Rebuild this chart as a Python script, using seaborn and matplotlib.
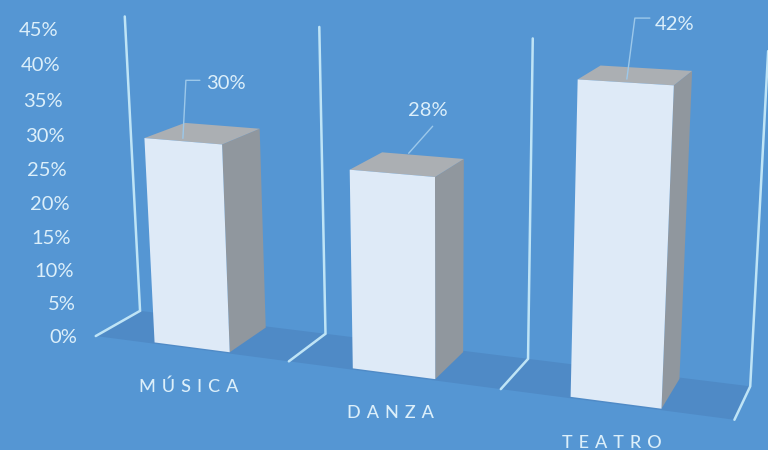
import numpy as np
import pandas as pd
import matplotlib
matplotlib.use('Agg')
import matplotlib.pyplot as plt
import matplotlib.transforms as mtransforms
from matplotlib.patches import Polygon
import seaborn as sns

categorias = ['MÚSICA', 'DANZA', 'TEATRO']
valores = [30, 28, 42]
etiquetas = ['30%', '28%', '42%']
ticks_y = [0, 5, 10, 15, 20, 25, 30, 35, 40, 45]

FONDO = '#5596D3'
PISO = '#4F8AC6'
FRENTE = '#DEEAF7'
TECHO = '#ABAFB3'
LADO = '#90979E'
TEXTO = '#DCEFFA'
LINEA = '#BFE4F6'
GUIA = '#9CC8EA'

W, H = 768, 450
ANCHO = 0.39
Z_FRENTE, Z_FONDO = 0.04, 0.96

# puntos de la imagen para ajustar la camara: x categoria, y valor, z profundidad, u, v
camara = [
    (-0.5, 45, 1, 125, 16), (-0.5, 0, 1, 140, 311), (-0.5, 0, 0, 97, 336),
    (0.5, 45, 1, 320, 27), (0.5, 0, 1, 326, 333), (0.5, 0, 0, 289, 362),
    (1.5, 45, 1, 533, 38), (1.5, 0, 1, 528, 359), (1.5, 0, 0, 502, 388),
    (2.5, 45, 1, 767, 50), (2.5, 0, 1, 750, 388), (2.5, 0, 0, 735, 418),
    (-0.195, 30, 0.04, 144, 139), (0.195, 30, 0.04, 222, 144),
    (0.195, 0, 0.04, 230, 352), (-0.195, 0, 0.04, 153, 342),
    (-0.195, 30, 0.96, 184, 123), (0.195, 30, 0.96, 260, 129),
    (0.805, 28, 0.04, 349, 170), (1.195, 28, 0.04, 436, 178),
    (1.195, 0, 0.04, 435, 379), (0.805, 0, 0.04, 352, 368),
    (0.805, 28, 0.96, 382, 152), (1.195, 28, 0.96, 465, 159),
    (1.805, 42, 0.04, 577, 80), (2.195, 42, 0.04, 675, 85),
    (2.195, 0, 0.04, 662, 409), (1.805, 0, 0.04, 569, 398),
    (1.805, 42, 0.96, 600, 66), (2.195, 42, 0.96, 692, 71),
]

# matriz de proyeccion por minimos cuadrados, ultimo termino fijo en 1
A = np.zeros((len(camara) * 2, 11))
b = np.zeros(len(camara) * 2)
for n, (x, y, z, u, v) in enumerate(camara):
    A[2 * n] = [x, y, z, 1, 0, 0, 0, 0, -u * x, -u * y, -u * z]
    A[2 * n + 1] = [0, 0, 0, 0, x, y, z, 1, -v * x, -v * y, -v * z]
    b[2 * n] = u
    b[2 * n + 1] = v
p = np.linalg.lstsq(A, b, rcond=None)[0]
P = np.append(p, 1).reshape(3, 4)


def proyectar(x, y, z):
    x, y, z = np.broadcast_arrays(x, y, z)
    q = P @ np.stack([x, y, z, np.ones_like(x, dtype=float)])
    return q[0] / q[2], q[1] / q[2]


pixel = mtransforms.Affine2D().scale(1, -1).translate(0, H)


class Perspectiva(mtransforms.Transform):
    input_dims = 2
    output_dims = 2
    is_separable = False

    def __init__(self, z):
        super().__init__()
        self.z = z

    def transform_non_affine(self, values):
        u, v = proyectar(values[:, 0], values[:, 1], self.z)
        return np.column_stack([u, H - v])


sns.set_theme(style='white')
plt.rcParams['font.family'] = ['Lato', 'DejaVu Sans']

datos = pd.DataFrame({'categoria': categorias, 'valor': valores})

fig = plt.figure(figsize=(W / 100, H / 100), dpi=100, facecolor=FONDO)
ax = fig.add_axes([0, 0, 1, 1])
sns.barplot(data=datos, x='categoria', y='valor', color=FRENTE, width=ANCHO, saturation=1, ax=ax)
ax.set_axis_off()


def cara(puntos, color, zorder):
    uv = [proyectar(*q) for q in puntos]
    ax.add_patch(Polygon(uv, closed=True, facecolor=color, edgecolor='none',
                         transform=pixel, zorder=zorder, clip_on=False))


# piso y paredes
cara([(-0.5, 0, 0), (2.5, 0, 0), (2.5, 0, 1), (-0.5, 0, 1)], PISO, 1)
for x in [-0.5, 0.5, 1.5, 2.5]:
    uv = [proyectar(x, 45, 1), proyectar(x, 0, 1), proyectar(x, 0, 0)]
    ax.plot([q[0] for q in uv], [q[1] for q in uv], color=LINEA, lw=1.8,
            transform=pixel, zorder=2, clip_on=False, solid_joinstyle='miter')

# barras: el frente viene de seaborn, techo y lado se sacan de cada barra
for barra in ax.patches[:len(valores)]:
    x0, x1 = barra.get_x(), barra.get_x() + barra.get_width()
    alto = barra.get_height()
    cara([(x1, 0, Z_FRENTE), (x1, 0, Z_FONDO), (x1, alto, Z_FONDO), (x1, alto, Z_FRENTE)], LADO, 3)
    cara([(x0, alto, Z_FRENTE), (x1, alto, Z_FRENTE), (x1, alto, Z_FONDO), (x0, alto, Z_FONDO)], TECHO, 3)
    barra.set_transform(Perspectiva(Z_FRENTE))
    barra.set_clip_on(False)
    barra.set_edgecolor('none')
    barra.set_zorder(4)

# guias de las etiquetas, relativas al centro del techo de la barra
guias = [[(-20, 5), (-17, -53), (-3, -53)], [(1, -11), (25, -38)], [(-9, 4), (-1, -57), (14, -57)]]
pos_etiqueta = [(23, -50), (20, -54), (39, -51)]
for i, (v, texto) in enumerate(zip(valores, etiquetas)):
    cu, cv = proyectar(i, v, 0.5)
    ax.plot([cu + g[0] for g in guias[i]], [cv + g[1] for g in guias[i]], color=GUIA, lw=1,
            transform=pixel, zorder=5, clip_on=False)
    ax.text(cu + pos_etiqueta[i][0], cv + pos_etiqueta[i][1], texto, color=TEXTO, fontsize=14.5,
            ha='center', va='center', transform=pixel, zorder=6)

# eje y
for t in ticks_y:
    u, v = proyectar(-0.61, t, 0)
    ax.text(u + 2, v + 4, f'{t}%', color=TEXTO, fontsize=14.5, ha='right', va='center', transform=pixel)

# categorias con letras separadas
for i, c in enumerate(categorias):
    u, v = proyectar(i, 0, 0)
    ax.text(u - 1 - i, v + 38.5, '\u2004'.join(c), color=TEXTO, fontsize=13, fontweight=500,
            ha='center', va='center', transform=pixel)

fig.savefig('out.png', dpi=100, facecolor=FONDO)
